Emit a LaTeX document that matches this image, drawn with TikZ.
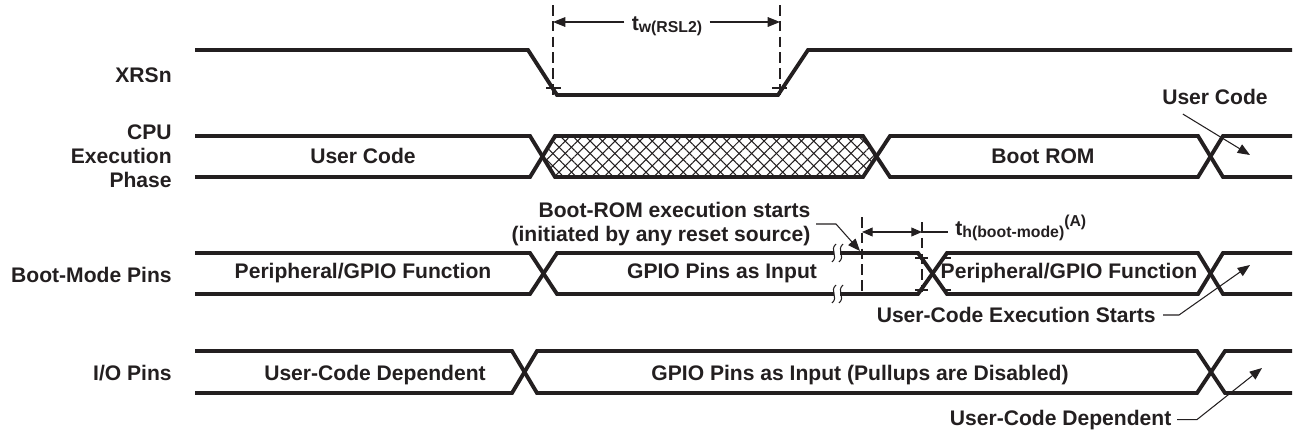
\documentclass[tikz,border=0pt]{standalone}
\usepackage{fontspec}
\setmainfont{Liberation Sans}
\usetikzlibrary{arrows.meta,patterns.meta}
\definecolor{ink}{HTML}{231F20}
\newcommand{\lowtxt}[1]{\raisebox{-1.5pt}{\fontsize{9}{10}\selectfont #1}}
\newcommand{\hightxt}[1]{\raisebox{5pt}{\fontsize{9}{10}\selectfont #1}}

\begin{document}
\begin{tikzpicture}[
        x=0.02cm, y=-0.02cm,
        sig/.style={draw=ink, line width=2.2pt},
        lbl/.style={text=ink, font=\bfseries\fontsize{12}{13.6}\selectfont, inner sep=0pt},
        note/.style={lbl, inner xsep=4pt},
        guide/.style={draw=ink, line width=0.6pt, dash pattern=on 6pt off 3pt},
        tick/.style={draw=ink, line width=0.6pt},
        leader/.style={draw=ink, line width=0.6pt, -{Triangle[length=7pt,width=5.5pt]}},
        span/.style={draw=ink, line width=0.6pt, {Triangle[length=6pt,width=5pt]}-{Triangle[length=6pt,width=5pt]}},
        hatch/.style={pattern={Lines[angle=#1,distance=5pt,line width=0.6pt]}, pattern color=ink},
    ]
    \useasboundingbox (0,0) rectangle (1299,433);

    % signal names
    \node[lbl, anchor=base east] (xrsn) at (172,82) {XRSn};
    \node[lbl, anchor=east, align=right] (cpu) at (172,156.5) {CPU\\Execution\\Phase};
    \node[lbl, anchor=base east] (boot) at (172,282) {Boot-Mode Pins};
    \node[lbl, anchor=base east] (io) at (172,380) {I/O Pins};

    % XRSn
    \draw[sig] (195,50) -- (528,50) -- (557,95) -- (778,95) -- (808,50) -- (1292,50);
    \draw[guide] (553,5) -- (553,97);
    \draw[guide] (780,5) -- (780,97);
    \draw[tick] (546,88) -- (561,88);
    \draw[tick] (772,88) -- (787,88);
    \coordinate (twl) at (553,22);
    \coordinate (twr) at (780,22);
    \node[note, anchor=base] (tw) at (667,30) {t\lowtxt{w(RSL2)}};
    \draw[leader] (tw.west |- twl) -- (twl);
    \draw[leader] (tw.east |- twr) -- (twr);

    % CPU execution phase
    \fill[hatch=45] (542,156.5) -- (555,136) -- (863,136) -- (877,156.5) -- (863,177) -- (555,177) -- cycle;
    \fill[hatch=-45] (542,156.5) -- (555,136) -- (863,136) -- (877,156.5) -- (863,177) -- (555,177) -- cycle;
    \draw[sig] (195,136) -- (530,136) -- (555,177) -- (863,177) -- (890,136) -- (1198,136) -- (1223,177) -- (1292,177);
    \draw[sig] (195,177) -- (530,177) -- (555,136) -- (863,136) -- (890,177) -- (1198,177) -- (1223,136) -- (1292,136);
    \node[lbl, anchor=base] (usercode) at (363,163) {User Code};
    \node[lbl, anchor=base] (bootrom) at (1043,163) {Boot ROM};
    \node[lbl] (uc) at (1215,97) {User Code};
    \coordinate (uctip) at (1250,155);
    \draw[leader] (uc.south west) ++(21,9) -- (uctip);

    % boot-mode pins
    \draw[sig] (195,253) -- (530,253) -- (557,294) -- (834,294);
    \draw[sig] (840,294) -- (918,294) -- (947,253) -- (1198,253) -- (1223,294) -- (1292,294);
    \draw[sig] (195,294) -- (530,294) -- (557,253) -- (834,253);
    \draw[sig] (840,253) -- (918,253) -- (947,294) -- (1198,294) -- (1223,253) -- (1292,253);
    \foreach \bx in {834,841} {
        \draw[tick] (\bx+2,244) .. controls (\bx-5,250) and (\bx+5,256) .. (\bx-2,262);
        \draw[tick] (\bx+2,285) .. controls (\bx-5,291) and (\bx+5,297) .. (\bx-2,303);
    }
    \draw[guide] (862,217) -- (862,294);
    \draw[guide] (922,222) -- (922,292);
    \draw[tick] (915,258) -- (928,258);
    \draw[tick] (915,290) -- (928,290);
    \draw[tick] (943,258) -- (951,258);
    \draw[tick] (943,290) -- (951,290);
    \coordinate (thl) at (862,232);
    \coordinate (thr) at (922,232);
    \draw[span] (thl) -- (thr);
    \node[note, anchor=base west] (th) at (948,235) {t\lowtxt{h(boot-mode)}\hightxt{(A)}};
    \draw[tick] (thr) -- (th.west |- thr);
    \node[lbl, anchor=base] (periph) at (363,278) {Peripheral/GPIO Function};
    \node[lbl, anchor=base] (gpioin) at (722,278) {GPIO Pins as Input};
    \node[lbl, anchor=base] (periph2) at (1069,278) {Peripheral/GPIO Function};
    \node[lbl, anchor=east, align=right, inner xsep=3pt] (brstart) at (816,224) {Boot-ROM execution starts\\(initiated by any reset source)};
    \coordinate (brtip) at (860,251);
    \draw[leader] (brstart.east) -- ++(20,0) -- (brtip);
    \node[note, anchor=east] (ucexec) at (1163,315) {User-Code Execution Starts};
    \coordinate (uctip2) at (1250,265);
    \draw[leader] (ucexec.east) -- ++(16,0) -- (uctip2);

    % I/O pins
    \draw[sig] (195,351) -- (512,351) -- (537,393) -- (1197,393) -- (1225,351) -- (1292,351);
    \draw[sig] (195,393) -- (512,393) -- (537,351) -- (1197,351) -- (1225,393) -- (1292,393);
    \node[lbl, anchor=base] (ucdep) at (375,380) {User-Code Dependent};
    \node[lbl, anchor=base] (gpiopu) at (860,380) {GPIO Pins as Input (Pullups are Disabled)};
    \node[lbl, anchor=base east, inner xsep=3pt] (ucdep2) at (1177,425) {User-Code Dependent};
    \coordinate (uctip3) at (1262,368);
    \draw[leader] (ucdep2.east) -- ++(20,0) -- (uctip3);
\end{tikzpicture}
\end{document}
